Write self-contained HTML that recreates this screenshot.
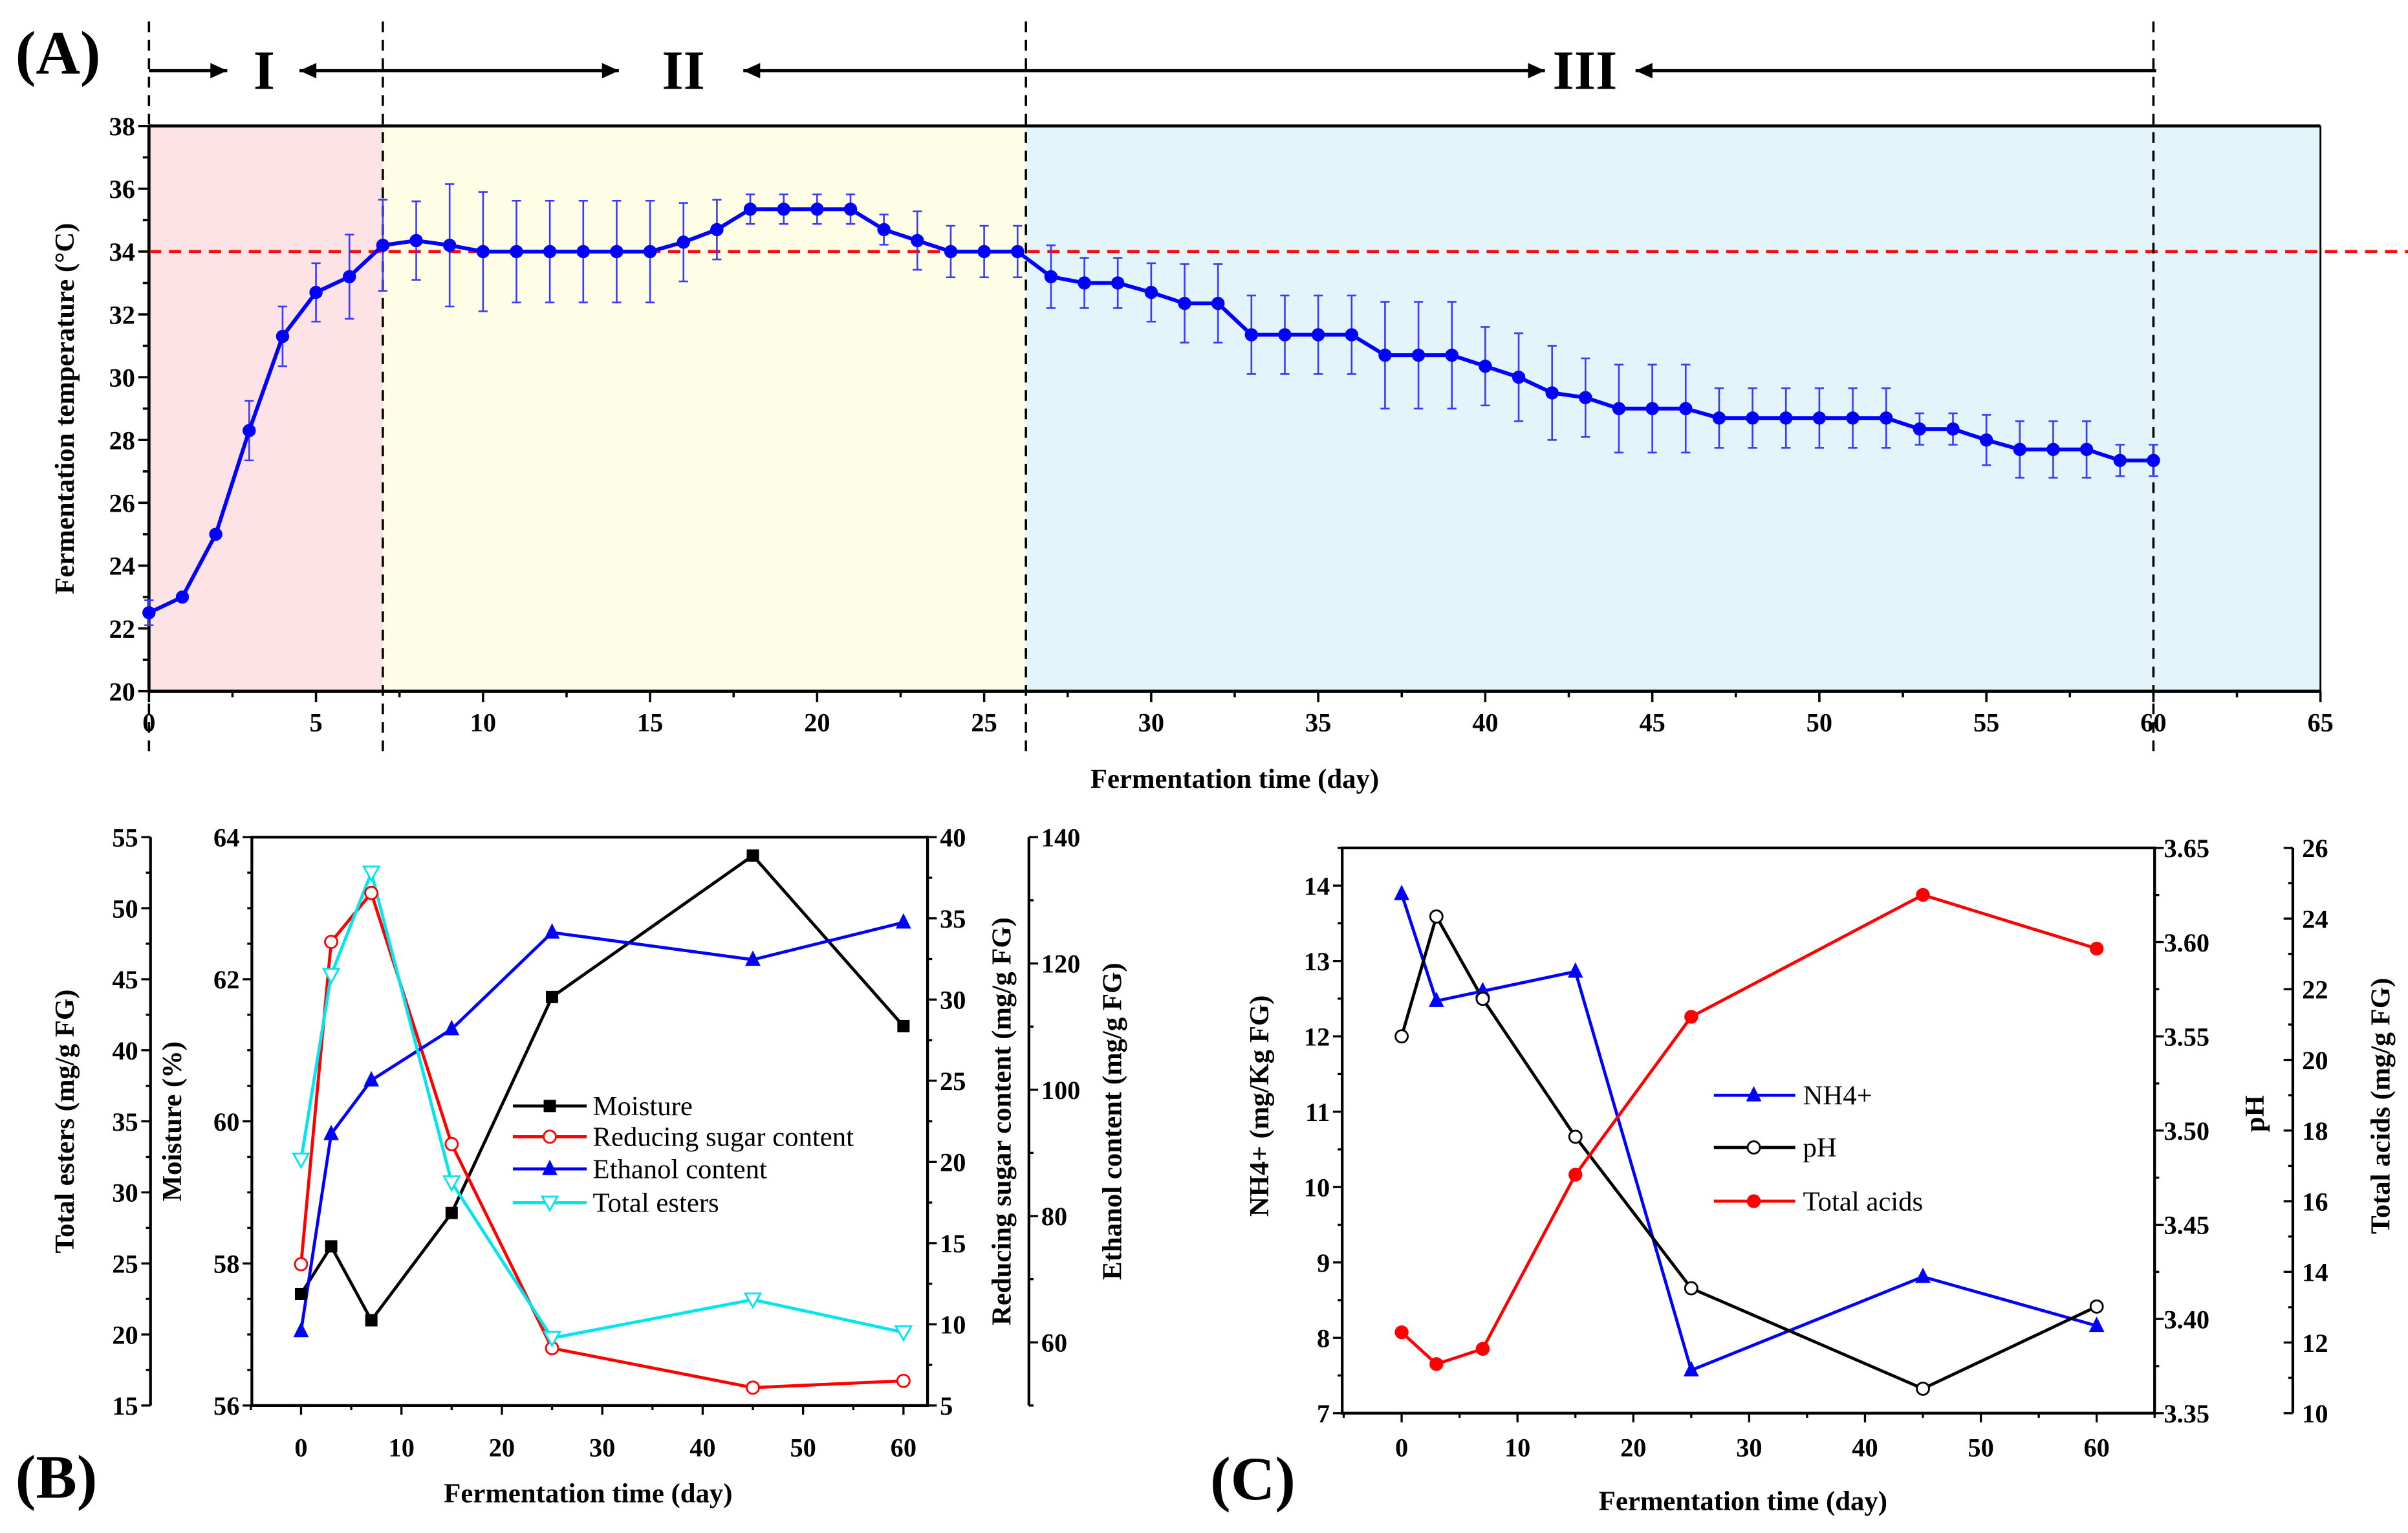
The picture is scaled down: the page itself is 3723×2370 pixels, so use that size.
<!DOCTYPE html>
<html><head><meta charset="utf-8"><style>
html,body{margin:0;padding:0;background:#fff;}
svg{display:block;}
text{font-family:"Liberation Serif",serif;}
</style></head><body>
<svg id="fig" width="3723" height="2370" viewBox="0 0 1568 998" preserveAspectRatio="none" xmlns="http://www.w3.org/2000/svg">
<rect x="0" y="0" width="1568" height="998" fill="#fff"/>
<g id="A"></g>
<g id="B"></g>
<g id="C"></g>
</svg>
<script>
// ---------- Panel A data ----------
const daysA = Array.from({length:61},(_,i)=>i);
const tempA = [22.5,23.0,25.0,28.3,31.3,32.7,33.2,34.2,34.35,34.2,34.0,34.0,34.0,34.0,34.0,34.0,34.3,34.7,35.35,35.35,35.35,35.35,34.7,34.35,34.0,34.0,34.0,33.2,33.0,33.0,32.7,32.35,32.35,31.35,31.35,31.35,31.35,30.7,30.7,30.7,30.35,30.0,29.5,29.35,29.0,29.0,29.0,28.7,28.7,28.7,28.7,28.7,28.7,28.35,28.35,28.0,27.7,27.7,27.7,27.35,27.35];
const errA = [0.4,0.1,0.1,0.95,0.95,0.93,1.34,1.45,1.25,1.95,1.9,1.62,1.62,1.62,1.62,1.62,1.25,0.95,0.47,0.47,0.47,0.47,0.48,0.93,0.82,0.82,0.82,1.0,0.8,0.8,0.93,1.25,1.25,1.25,1.25,1.25,1.25,1.7,1.7,1.7,1.25,1.4,1.5,1.25,1.4,1.4,1.4,0.95,0.95,0.95,0.95,0.95,0.95,0.5,0.5,0.8,0.9,0.9,0.9,0.5,0.5];
const yTicksA = [20,22,24,26,28,30,32,34,36,38];
const xTicksA = [0,5,10,15,20,25,30,35,40,45,50,55,60,65];
const phaseBounds = [0,7,26.25,60];
// ---------- Panel B data ----------
const daysB = [0,3,7,15,25,45,60];
const moisture = [57.57,58.24,57.2,58.71,61.75,63.74,61.34];
const sugar = [13.7,33.55,36.56,21.1,8.53,6.1,6.52];
const ethanol = [61.8,93.0,101.5,109.6,124.9,120.6,126.5];
const esters = [32.3,45.3,52.5,30.7,19.75,22.45,20.15];
const moistTicks = [56,58,60,62,64];
const esterTicks = [15,20,25,30,35,40,45,50,55];
const sugarTicks = [5,10,15,20,25,30,35,40];
const ethTicks = [60,80,100,120,140];
const xTicksBC = [0,10,20,30,40,50,60];
// ---------- Panel C data ----------
const daysC = [0,3,7,15,25,45,60];
const nh4 = [13.89,12.47,12.6,12.86,7.57,8.81,8.16];
const ph = [3.55,3.6136,3.5699,3.4967,3.4163,3.363,3.4066];
const acids = [12.29,11.39,11.82,16.75,21.22,24.67,23.15];
const nh4Ticks = [7,8,9,10,11,12,13,14];
const phTicks = [3.35,3.40,3.45,3.50,3.55,3.60,3.65];
const acidTicks = [10,12,14,16,18,20,22,24,26];

const NS="http://www.w3.org/2000/svg";
function el(parent,tag,attrs,txt){const e=document.createElementNS(NS,tag);for(const k in attrs)e.setAttribute(k,attrs[k]);if(txt!==undefined)e.textContent=txt;parent.appendChild(e);return e;}
function lin(d0,d1,r0,r1){return v=>r0+(v-d0)/(d1-d0)*(r1-r0);}

// ================= PANEL A =================
(function(){
const g=document.getElementById('A');
const L=97,R=1511,T=82,Bm=450;
const x=lin(0,65,L,R), y=lin(20,38,Bm,T);
const cols=['#fde3e5','#fefde5','#e3f4fb'];
const edges=[x(phaseBounds[0]),x(phaseBounds[1]),x(phaseBounds[2]),R];
for(let i=0;i<3;i++){const r=el(g,'rect',{x:edges[i],y:T,width:edges[i+1]-edges[i],height:Bm-T,fill:cols[i]});

}
el(g,'line',{x1:L,y1:T,x2:R,y2:T,stroke:'#000','stroke-width':2});
el(g,'line',{x1:L,y1:Bm,x2:R,y2:Bm,stroke:'#000','stroke-width':2});
el(g,'line',{x1:L,y1:T,x2:L,y2:Bm,stroke:'#000','stroke-width':2});
el(g,'line',{x1:R,y1:T,x2:R,y2:Bm,stroke:'#000','stroke-width':1.2});
for(let v=20;v<=38;v+=1){const yy=y(v);const major=yTicksA.includes(v);el(g,'line',{x1:L,y1:yy,x2:L-(major?7:4),y2:yy,stroke:'#000','stroke-width':1.5});}
yTicksA.forEach(v=>{const t=el(g,'text',{x:L-9,y:y(v)+6,'font-size':17,'font-weight':'bold','text-anchor':'end'},v);

});
for(let v=0;v<=65;v+=2.5){const xx=x(v);const major=v%5===0;el(g,'line',{x1:xx,y1:Bm,x2:xx,y2:Bm+(major?7:4),stroke:'#000','stroke-width':1.5});}
xTicksA.forEach(v=>{const t=el(g,'text',{x:x(v),y:476,'font-size':17,'font-weight':'bold','text-anchor':'middle'},v);

});
const yt=el(g,'text',{x:0,y:0,'font-size':18,'font-weight':'bold','text-anchor':'middle',transform:'translate(48,266) rotate(-90)'},'Fermentation temperature (°C)');


const xt=el(g,'text',{x:804,y:513,'font-size':18,'font-weight':'bold','text-anchor':'middle','font-family':'Liberation Sans, sans-serif'},'Fermentation time (day)');


const ref=el(g,'line',{x1:L,y1:y(34),x2:1568,y2:y(34),stroke:'#f01010','stroke-width':2,'stroke-dasharray':'8,5'});


phaseBounds.forEach(d=>{const l=el(g,'line',{x1:x(d),y1:14,x2:x(d),y2:490,stroke:'#000','stroke-width':1.5,'stroke-dasharray':'7,5'});

});
daysA.forEach((d,i)=>{const xx=x(d),y1=y(tempA[i]+errA[i]),y2=y(tempA[i]-errA[i]);
el(g,'line',{x1:xx,y1:y1,x2:xx,y2:y2,stroke:'#3a3aff','stroke-width':1.1});
el(g,'line',{x1:xx-3,y1:y1,x2:xx+3,y2:y1,stroke:'#3a3aff','stroke-width':1.1});
el(g,'line',{x1:xx-3,y1:y2,x2:xx+3,y2:y2,stroke:'#3a3aff','stroke-width':1.1});});
const pl=el(g,'polyline',{points:daysA.map((d,i)=>x(d)+','+y(tempA[i])).join(' '),fill:'none',stroke:'#0000ff','stroke-width':2.5});


daysA.forEach((d,i)=>{const c=el(g,'circle',{cx:x(d),cy:y(tempA[i]),r:4.3,fill:'#0000ff'});

});
const lab=el(g,'text',{x:10,y:48,'font-size':40,'font-weight':'bold'},'(A)');


const ay=46;
function arrow(x1,x2,left,right){el(g,'line',{x1:x1,y1:ay,x2:x2,y2:ay,stroke:'#000','stroke-width':2});
if(right)el(g,'polygon',{points:`${x2},${ay} ${x2-11},${ay-5} ${x2-11},${ay+5}`,fill:'#000'});
if(left)el(g,'polygon',{points:`${x1},${ay} ${x1+11},${ay-5} ${x1+11},${ay+5}`,fill:'#000'});}
arrow(97,148,false,true);arrow(195,403,true,true);arrow(484,1006,true,true);arrow(1065,1404,true,false);
[['I',172],['II',445],['III',1032]].forEach(p=>{const t=el(g,'text',{x:p[1],y:58,'font-size':36,'font-weight':'bold','text-anchor':'middle'},p[0]);

});
})();

// ================= PANEL B =================
(function(){
const g=document.getElementById('B');
const L=164,R=604,T=545,Bm=915;
const x=lin(-4.9,62.4,L,R);
const ym=lin(56,64,Bm,T), ye=lin(15,55,Bm,T), ys=lin(5,40,Bm,T), yeth=lin(50,140,Bm,T);
el(g,'rect',{x:L,y:T,width:R-L,height:Bm-T,fill:'none',stroke:'#000','stroke-width':1.8});
for(let v=56;v<=64;v+=0.5){const major=v%2===0;el(g,'line',{x1:L,y1:ym(v),x2:L-(major?6:3),y2:ym(v),stroke:'#000','stroke-width':1.4});}
moistTicks.forEach(v=>{const t=el(g,'text',{x:L-8,y:ym(v)+6,'font-size':17,'font-weight':'bold','text-anchor':'end'},v);

});
const ax=98;
el(g,'line',{x1:ax,y1:T,x2:ax,y2:Bm,stroke:'#000','stroke-width':1.8});
for(let v=15;v<=55;v+=2.5){const major=v%5===0;el(g,'line',{x1:ax,y1:ye(v),x2:ax-(major?6:3),y2:ye(v),stroke:'#000','stroke-width':1.4});}
esterTicks.forEach(v=>{const t=el(g,'text',{x:ax-8,y:ye(v)+6,'font-size':17,'font-weight':'bold','text-anchor':'end'},v);

});
for(let v=5;v<=40;v+=2.5){const major=v%5===0;el(g,'line',{x1:R,y1:ys(v),x2:R+(major?6:3),y2:ys(v),stroke:'#000','stroke-width':1.4});}
sugarTicks.forEach(v=>{const t=el(g,'text',{x:R+8,y:ys(v)+6,'font-size':17,'font-weight':'bold'},v);

});
const ex=670;
el(g,'line',{x1:ex,y1:T,x2:ex,y2:Bm,stroke:'#000','stroke-width':1.8});
for(let v=50;v<=140;v+=10){const major=v%20===0;el(g,'line',{x1:ex,y1:yeth(v),x2:ex+(major?6:3),y2:yeth(v),stroke:'#000','stroke-width':1.4});}
ethTicks.forEach(v=>{const t=el(g,'text',{x:ex+8,y:yeth(v)+6,'font-size':17,'font-weight':'bold'},v);

});
for(let v=-5;v<=60;v+=5){const major=v%10===0;el(g,'line',{x1:x(v),y1:Bm,x2:x(v),y2:Bm+(major?6:3),stroke:'#000','stroke-width':1.4});}
xTicksBC.forEach(v=>{const t=el(g,'text',{x:x(v),y:948,'font-size':17,'font-weight':'bold','text-anchor':'middle'},v);

});
const titles=[['Total esters (mg/g FG)',48,730],['Moisture (%)',118,730],['Reducing sugar content (mg/g FG)',658,730],['Ethanol content (mg/g FG)',730,730]];
titles.forEach(tt=>{const t=el(g,'text',{x:0,y:0,'font-size':18,'font-weight':'bold','text-anchor':'middle',transform:`translate(${tt[1]},${tt[2]}) rotate(-90)`},tt[0]);

});
const xt=el(g,'text',{x:383,y:978,'font-size':18,'font-weight':'bold','text-anchor':'middle','font-family':'Liberation Sans, sans-serif'},'Fermentation time (day)');


const lab=el(g,'text',{x:10,y:975,'font-size':40,'font-weight':'bold'},'(B)');


function marker(px,py,type,col){
 if(type==='sq')return el(g,'rect',{x:px-4,y:py-4,width:8,height:8,fill:col});
 if(type==='oc')return el(g,'circle',{cx:px,cy:py,r:4,fill:'#fff',stroke:col,'stroke-width':1.2});
 if(type==='tri')return el(g,'polygon',{points:`${px},${py-6} ${px-5},${py+4} ${px+5},${py+4}`,fill:col});
 if(type==='itri')return el(g,'polygon',{points:`${px},${py+5} ${px-5},${py-4} ${px+5},${py-4}`,fill:'#fff',stroke:col,'stroke-width':1.2});
}
const series=[[moisture,ym,'#000','sq','moisture'],[sugar,ys,'#ff0000','oc','reducing-sugar'],[ethanol,yeth,'#0000ff','tri','ethanol'],[esters,ye,'#00e5ee','itri','total-esters']];
series.forEach(s=>{const l=el(g,'polyline',{points:daysB.map((d,i)=>x(d)+','+s[1](s[0][i])).join(' '),fill:'none',stroke:s[2],'stroke-width':2});

});
series.forEach(s=>{daysB.forEach((d,i)=>{const m=marker(x(d),s[1](s[0][i]),s[3],s[2]);

});});
const names=['Moisture','Reducing sugar content','Ethanol content','Total esters'];
const ly=[726,746,767,789];
series.forEach((s,i)=>{const lg=el(g,'g',{});


el(lg,'line',{x1:334,y1:ly[i]-6,x2:382,y2:ly[i]-6,stroke:s[2],'stroke-width':2});
const m=marker(358,ly[i]-6,s[3],s[2]);lg.appendChild(m);
el(lg,'text',{x:386,y:ly[i],'font-size':18},names[i]);});
})();

// ================= PANEL C =================
(function(){
const g=document.getElementById('C');
const L=874,R=1403,T=552,Bm=920;
const x=lin(-5.13,65,L,R);
const yn=lin(7,14.5,Bm,T), yp=lin(3.35,3.65,Bm,T), ya=lin(10,26,Bm,T);
el(g,'rect',{x:L,y:T,width:R-L,height:Bm-T,fill:'none',stroke:'#000','stroke-width':1.8});
for(let v=7;v<=14.5;v+=0.5){const major=v%1===0;el(g,'line',{x1:L,y1:yn(v),x2:L-(major?6:3),y2:yn(v),stroke:'#000','stroke-width':1.4});}
nh4Ticks.forEach(v=>{const t=el(g,'text',{x:L-8,y:yn(v)+6,'font-size':17,'font-weight':'bold','text-anchor':'end'},v);

});
for(let i=0;i<=12;i++){const v=3.35+i*0.025;const major=i%2===0;el(g,'line',{x1:R,y1:yp(v),x2:R+(major?6:3),y2:yp(v),stroke:'#000','stroke-width':1.4});}
phTicks.forEach(v=>{const t=el(g,'text',{x:R+6,y:yp(v)+6,'font-size':17,'font-weight':'bold'},v.toFixed(2));

});
const axx=1493;
el(g,'line',{x1:axx,y1:T,x2:axx,y2:Bm,stroke:'#000','stroke-width':1.8});
for(let v=10;v<=26;v+=1){const major=v%2===0;el(g,'line',{x1:axx,y1:ya(v),x2:axx-(major?6:3),y2:ya(v),stroke:'#000','stroke-width':1.4});}
acidTicks.forEach(v=>{const t=el(g,'text',{x:axx+6,y:ya(v)+6,'font-size':17,'font-weight':'bold'},v);

});
for(let v=-5;v<=65;v+=5){const major=v%10===0;el(g,'line',{x1:x(v),y1:Bm,x2:x(v),y2:Bm+(major?6:3),stroke:'#000','stroke-width':1.4});}
xTicksBC.forEach(v=>{const t=el(g,'text',{x:x(v),y:948,'font-size':17,'font-weight':'bold','text-anchor':'middle'},v);

});
const titles=[['NH4+ (mg/Kg FG)',826,720],['pH',1474,725],['Total acids (mg/g FG)',1556,720]];
titles.forEach(tt=>{const t=el(g,'text',{x:0,y:0,'font-size':18,'font-weight':'bold','text-anchor':'middle',transform:`translate(${tt[1]},${tt[2]}) rotate(-90)`},tt[0]);

});
const xt=el(g,'text',{x:1135,y:983,'font-size':18,'font-weight':'bold','text-anchor':'middle','font-family':'Liberation Sans, sans-serif'},'Fermentation time (day)');


const lab=el(g,'text',{x:788,y:976,'font-size':40,'font-weight':'bold'},'(C)');


function marker(px,py,type,col){
 if(type==='tri')return el(g,'polygon',{points:`${px},${py-6} ${px-5},${py+4} ${px+5},${py+4}`,fill:col});
 if(type==='oc')return el(g,'circle',{cx:px,cy:py,r:4,fill:'#fff',stroke:col,'stroke-width':1.2});
 if(type==='fc')return el(g,'circle',{cx:px,cy:py,r:4.5,fill:col});
}
const series=[[nh4,yn,'#0000ff','tri','nh4'],[ph,yp,'#000','oc','ph'],[acids,ya,'#ff0000','fc','total-acids']];
series.forEach(s=>{const l=el(g,'polyline',{points:daysC.map((d,i)=>x(d)+','+s[1](s[0][i])).join(' '),fill:'none',stroke:s[2],'stroke-width':2});

});
series.forEach(s=>{daysC.forEach((d,i)=>{const m=marker(x(d),s[1](s[0][i]),s[3],s[2]);

});});
const names=['NH4+','pH','Total acids'];
const ly=[719,753,788];
series.forEach((s,i)=>{const lg=el(g,'g',{});


el(lg,'line',{x1:1116,y1:ly[i]-6,x2:1169,y2:ly[i]-6,stroke:s[2],'stroke-width':2});
const m=marker(1142,ly[i]-6,s[3],s[2]);lg.appendChild(m);
el(lg,'text',{x:1174,y:ly[i],'font-size':18},names[i]);});
})();
</script>
</body></html>
